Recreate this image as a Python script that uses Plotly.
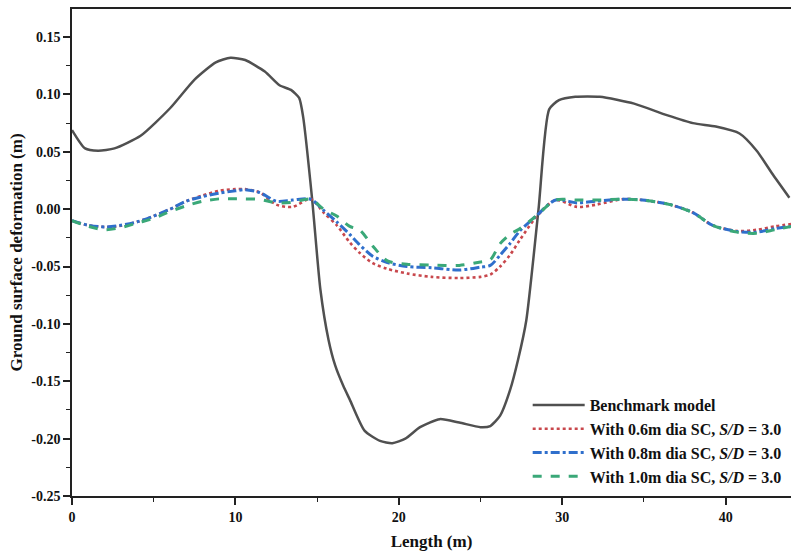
import plotly.graph_objects as go

# Benchmark model
bench_x = [0, 0.8, 1.6, 2.6, 4.2, 6.0, 7.5, 8.8, 9.7, 10.6, 11.8, 12.7, 13.4, 13.9, 14.15, 14.7,
           15.2, 15.7, 16.1, 16.6, 17.0, 17.9, 18.85, 19.6, 20.4, 21.3, 22.5, 23.7, 25.0, 25.6,
           26.2, 26.8, 27.3, 27.8, 28.55, 29.2, 29.8, 30.8, 32.3, 34.4, 36.4, 38.0, 39.4, 40.85,
           41.9, 42.9, 43.9]
bench_y = [0.069, 0.053, 0.051, 0.053, 0.064, 0.088, 0.113, 0.128, 0.132, 0.130, 0.120, 0.108,
           0.104, 0.097, 0.080, 0.008, -0.070, -0.114, -0.136, -0.154, -0.166, -0.193, -0.202,
           -0.204, -0.200, -0.190, -0.183, -0.186, -0.190, -0.189, -0.180, -0.158, -0.131,
           -0.097, 0.000, 0.087, 0.095, 0.098, 0.098, 0.092, 0.082, 0.075, 0.072, 0.066,
           0.051, 0.030, 0.010]

# Stone column cases
sc_x = [0, 1, 2, 3, 4, 5, 6, 7, 8, 9, 10, 10.6, 11.5, 12.5, 13.5, 14.6, 15.4, 16.2, 17.0, 17.6,
        18.4, 19.3, 20.5, 22, 23.7, 25, 25.6, 26.2, 26.8, 27.4, 28.4, 29.6, 30.9, 32.1, 33.7,
        34.9, 36.6, 38.0, 39.2, 40.7, 41.9, 43.0, 44]
sc06_y = [-0.010, -0.014, -0.0155, -0.0145, -0.011, -0.006, 0.000, 0.007, 0.012, 0.016, 0.0175,
          0.0175, 0.0145, 0.004, 0.002, 0.009, -0.003, -0.014, -0.029, -0.038, -0.047, -0.052,
          -0.056, -0.059, -0.060, -0.059, -0.057, -0.050, -0.040, -0.027, -0.007, 0.008, 0.002,
          0.004, 0.0087, 0.008, 0.004, -0.003, -0.014, -0.019, -0.018, -0.015, -0.013]
sc08_y = [-0.010, -0.014, -0.0155, -0.014, -0.011, -0.006, 0.000, 0.007, 0.011, 0.014, 0.016,
          0.017, 0.0145, 0.007, 0.008, 0.0087, -0.001, -0.011, -0.022, -0.031, -0.041, -0.0465,
          -0.050, -0.051, -0.053, -0.0505, -0.049, -0.040, -0.030, -0.019, -0.006, 0.008, 0.0055,
          0.007, 0.0087, 0.008, 0.004, -0.003, -0.014, -0.0195, -0.020, -0.017, -0.015]
sc10_y = [-0.010, -0.015, -0.018, -0.016, -0.012, -0.008, -0.002, 0.003, 0.007, 0.009, 0.009,
          0.009, 0.0085, 0.0055, 0.006, 0.0087, 0.000, -0.006, -0.015, -0.018, -0.032, -0.045,
          -0.048, -0.0486, -0.049, -0.046, -0.044, -0.030, -0.022, -0.017, -0.006, 0.008, 0.008,
          0.008, 0.0087, 0.008, 0.004, -0.003, -0.014, -0.020, -0.021, -0.018, -0.015]

names = ["Benchmark model",
         "With 0.6m dia SC, <i>S/D</i> = 3.0",
         "With 0.8m dia SC, <i>S/D</i> = 3.0",
         "With 1.0m dia SC, <i>S/D</i> = 3.0"]

x_ticks = [0, 10, 20, 30, 40]
y_ticks = [-0.25, -0.20, -0.15, -0.10, -0.05, 0.00, 0.05, 0.10, 0.15]

FONT = "Liberation Serif"

fig = go.Figure()
fig.add_trace(go.Scatter(x=bench_x, y=bench_y, mode="lines", name=names[0],
                         line=dict(color="#505050", width=2.5, shape="spline", smoothing=0.6)))
fig.add_trace(go.Scatter(x=sc_x, y=sc06_y, mode="lines", name=names[1],
                         line=dict(color="#c8474c", width=2.6, dash="dot", shape="spline", smoothing=0.8)))
fig.add_trace(go.Scatter(x=sc_x, y=sc08_y, mode="lines", name=names[2],
                         line=dict(color="#2f6fcc", width=3, dash="dashdot", shape="spline", smoothing=0.8)))
fig.add_trace(go.Scatter(x=sc_x, y=sc10_y, mode="lines", name=names[3],
                         line=dict(color="#3aa878", width=3, dash="dash", shape="spline", smoothing=0.8)))

fig.update_layout(
    width=791, height=560,
    margin=dict(l=72, r=0, t=9, b=64),
    paper_bgcolor="white", plot_bgcolor="white",
    font=dict(family=FONT, size=14, color="#111", weight="bold"),
    showlegend=True,
    legend=dict(x=0.994, xanchor="right", y=0.004, yanchor="bottom", bgcolor="rgba(0,0,0,0)",
                font=dict(family=FONT, size=16, color="#111", weight="bold"),
                itemwidth=52, tracegroupgap=0),
    xaxis=dict(range=[0, 44], tickvals=x_ticks, ticktext=[str(v) for v in x_ticks],
               showline=True, linecolor="#222", linewidth=1.5, mirror=True,
               ticks="outside", ticklen=7, tickwidth=1.5, tickcolor="#222",
               minor=dict(dtick=5, tick0=0, ticks="outside", ticklen=4, tickwidth=1.2, tickcolor="#222"),
               showgrid=False, zeroline=False,
               title=dict(text="Length (m)", font=dict(family=FONT, size=17, weight="bold"), standoff=12),
               tickfont=dict(family=FONT, size=14, weight="bold")),
    yaxis=dict(range=[-0.25, 0.1745], tickvals=y_ticks, ticktext=["%.2f" % v for v in y_ticks],
               showline=True, linecolor="#222", linewidth=1.5,
               ticks="outside", ticklen=7, tickwidth=1.5, tickcolor="#222",
               minor=dict(dtick=0.025, tick0=0, ticks="outside", ticklen=4, tickwidth=1.2, tickcolor="#222"),
               showgrid=False, zeroline=False,
               title=dict(text="Ground surface deformation (m)", font=dict(family=FONT, size=17, weight="bold"), standoff=4),
               tickfont=dict(family=FONT, size=14, weight="bold")),
)

fig.write_html("out.html")
